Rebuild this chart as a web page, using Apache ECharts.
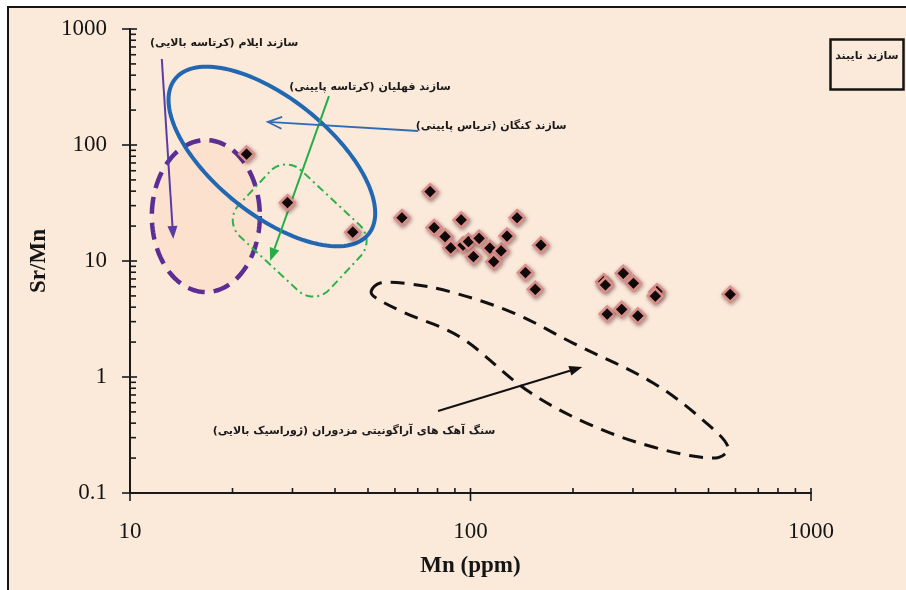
<!DOCTYPE html>
<html>
<head>
<meta charset="utf-8">
<script src="https://cdn.jsdelivr.net/npm/echarts@6/dist/echarts.min.js"></script>
<style>
  html, body { margin: 0; padding: 0; background: #ffffff; }
  body { position: relative; width: 906px; height: 590px; overflow: hidden; }
  #frame { position: absolute; left: 7px; top: 6px; width: 1000px; height: 1000px;
           background: #FBE9DA; border-left: 2px solid #151515; border-top: 2px solid #151515; }
  #chart { position: absolute; left: 0; top: 0; width: 906px; height: 590px; }
</style>
</head>
<body>
<div id="frame"></div>
<div id="chart"></div>
<script>
// Nayband Formation samples: Mn (ppm) against Sr/Mn
const mn   = [22.0, 29.0, 45.1, 62.9, 76.1, 78.2, 84.2, 87.5, 93.9, 95.1, 98.6, 106, 102, 114, 123, 128, 117, 137, 161, 145, 155, 246, 249, 281, 301, 353, 349, 252, 278, 310, 579];
const srMn = [83.6, 31.8, 17.7, 23.6, 39.6, 19.4, 16.2, 13.0, 22.6, 13.7, 14.7, 15.7, 10.9, 12.9, 12.2, 16.4, 9.86, 23.6, 13.7, 7.93, 5.70, 6.63, 6.21, 7.83, 6.43, 5.44, 4.99, 3.49, 3.83, 3.36, 5.16];

// Axis tick values (log decades and their 2..9 subdivisions)
const xMajor = [10, 100, 1000];
const xMinor = [20, 30, 40, 50, 60, 70, 80, 90, 200, 300, 400, 500, 600, 700, 800, 900];
const yMajor = [0.1, 1, 10, 100, 1000];
const yMinor = [0.2, 0.3, 0.4, 0.5, 0.6, 0.7, 0.8, 0.9, 2, 3, 4, 5, 6, 7, 8, 9,
                20, 30, 40, 50, 60, 70, 80, 90, 200, 300, 400, 500, 600, 700, 800, 900];

// Field of the Mozduran aragonitic limestones (outline, Mn / Sr/Mn)
const mozduranMn   = [51.1, 54.3, 66.5, 87.7, 134, 200, 344, 493, 572, 523, 344, 219, 146, 93.2, 63.4, 52.8];
const mozduranSrMn = [5.51, 6.46, 6.34, 5.41, 3.56, 1.96, 0.888, 0.401, 0.244, 0.200, 0.249, 0.401, 0.773, 2.21, 3.63, 4.80];

// Centres of the other formation fields (Mn, Sr/Mn)
const ilamCentre     = [16.7, 24.4];
const kanganCentre   = [26.1, 79.6];
const fahliyanCentre = [31.5, 18.3];

// Labels and their pointer arrows (Mn, Sr/Mn)
const labelIlam     = 'سازند ایلام (کرتاسه بالایی)';
const labelFahliyan = 'سازند فهلیان (کرتاسه پایینی)';
const labelKangan   = 'سازند کنگان (تریاس پایینی)';
const labelMozduran = 'سنگ آهک های آراگونیتی مزدوران (ژوراسیک بالایی)';
const labelNayband  = 'سازند نایبند';
const posIlam     = [18.9, 757];
const posFahliyan = [50.7, 316];
const posKangan   = [115, 146];
const posMozduran = [45.5, 0.342];
const arrowIlam     = [[12.4, 551], [13.4, 15.5]];
const arrowFahliyan = [[38.4, 264], [25.8, 10.0]];
const arrowKangan   = [[70.2, 132], [25.4, 158]];
const arrowMozduran = [[80.3, 0.509], [213, 1.22]];

const RTL = s => '\u202B' + s + '\u202C';
const persianFont = 'bold 11px "DejaVu Sans"';

const chart = echarts.init(document.getElementById('chart'), null, { renderer: 'canvas' });

function ellipsePts(c, rx, ry, deg) {
  const th = deg * Math.PI / 180, pts = [];
  for (let i = 0; i < 144; i++) {
    const t = i / 144 * 2 * Math.PI, ex = rx * Math.cos(t), ey = ry * Math.sin(t);
    pts.push([c[0] + ex * Math.cos(th) - ey * Math.sin(th), c[1] + ex * Math.sin(th) + ey * Math.cos(th)]);
  }
  return pts;
}

function roundRectPts(c, w, h, r, deg) {
  const th = deg * Math.PI / 180, hw = w / 2, hh = h / 2, pts = [];
  const corners = [[hw - r, hh - r, 0], [-hw + r, hh - r, 90], [-hw + r, -hh + r, 180], [hw - r, -hh + r, 270]];
  corners.forEach(([cx, cy, a0]) => {
    for (let k = 0; k <= 10; k++) {
      const a = (a0 + k * 9) * Math.PI / 180;
      const lx = cx + r * Math.cos(a), ly = cy + r * Math.sin(a);
      pts.push([c[0] + lx * Math.cos(th) - ly * Math.sin(th), c[1] + lx * Math.sin(th) + ly * Math.cos(th)]);
    }
  });
  return pts;
}

function arrow(api, pair, color, width, open) {
  const a = api.coord(pair[0]), b = api.coord(pair[1]);
  const ang = Math.atan2(b[1] - a[1], b[0] - a[0]);
  const L = open ? 14 : 13, W = open ? 6 : 5;
  const bx = b[0] - L * Math.cos(ang), by = b[1] - L * Math.sin(ang);
  const l = [bx + W * Math.sin(ang), by - W * Math.cos(ang)];
  const r = [bx - W * Math.sin(ang), by + W * Math.cos(ang)];
  const out = [{ type: 'line', shape: { x1: a[0], y1: a[1], x2: open ? b[0] : bx, y2: open ? b[1] : by },
                 style: { stroke: color, lineWidth: width } }];
  if (open) out.push({ type: 'polyline', shape: { points: [l, b, r] }, style: { stroke: color, lineWidth: width, fill: null } });
  else out.push({ type: 'polygon', shape: { points: [l, b, r] }, style: { fill: color } });
  return out;
}

function label(api, pos, text) {
  const p = api.coord(pos);
  return { type: 'text', x: p[0], y: p[1],
           style: { text: RTL(text), font: persianFont, fill: '#1a1a1a', align: 'center', verticalAlign: 'middle' } };
}

function renderFields(params, api) {
  const children = [];
  // Ilam field (purple, dashed, shaded)
  children.push({ type: 'polygon', shape: { points: ellipsePts(api.coord(ilamCentre), 54, 76, 0) },
    style: { fill: 'rgba(252,212,182,0.35)', stroke: '#5A2E93', lineWidth: 4.5, lineDash: [17, 9] } });
  // Fahliyan field (green, dash-dot)
  children.push({ type: 'polygon', shape: { points: roundRectPts(api.coord(fahliyanCentre), 124, 90, 22, 43) },
    style: { fill: null, stroke: '#2DB24B', lineWidth: 2, lineDash: [8, 4, 2, 4] } });
  // Kangan field (blue)
  children.push({ type: 'polygon', shape: { points: ellipsePts(api.coord(kanganCentre), 124, 58, 38.7) },
    style: { fill: null, stroke: '#2267B2', lineWidth: 4 } });
  // Mozduran field (black, dashed)
  const moz = mozduranMn.map((m, i) => api.coord([m, mozduranSrMn[i]]));
  children.push({ type: 'polygon', shape: { points: moz, smooth: 0.35 },
    style: { fill: null, stroke: '#111111', lineWidth: 3, lineDash: [14, 9] } });

  children.push(...arrow(api, arrowIlam, '#5B3CA6', 2, false));
  children.push(...arrow(api, arrowFahliyan, '#25AE48', 2, false));
  children.push(...arrow(api, arrowKangan, '#2E6DB4', 1.8, true));
  children.push(...arrow(api, arrowMozduran, '#111111', 2, false));

  children.push(label(api, posIlam, labelIlam));
  children.push(label(api, posFahliyan, labelFahliyan));
  children.push(label(api, posKangan, labelKangan));
  children.push(label(api, posMozduran, labelMozduran));
  return { type: 'group', children };
}

function renderTicks(params, api) {
  const children = [];
  const st = { stroke: '#1a1a1a', lineWidth: 1.6 };
  xMajor.forEach(v => { const p = api.coord([v, 0.1]);
    children.push({ type: 'line', shape: { x1: p[0], y1: p[1] - 5, x2: p[0], y2: p[1] + 8 }, style: st }); });
  xMinor.forEach(v => { const p = api.coord([v, 0.1]);
    children.push({ type: 'line', shape: { x1: p[0], y1: p[1] - 5, x2: p[0], y2: p[1] }, style: st }); });
  yMajor.forEach(v => { const p = api.coord([10, v]);
    children.push({ type: 'line', shape: { x1: p[0] - 8, y1: p[1], x2: p[0] + 7, y2: p[1] }, style: st }); });
  yMinor.forEach(v => { const p = api.coord([10, v]);
    children.push({ type: 'line', shape: { x1: p[0], y1: p[1], x2: p[0] + 6, y2: p[1] }, style: st }); });
  return { type: 'group', children };
}

const plainNumber = v => String(+v.toPrecision(6));
const axisFont = { fontFamily: '"Liberation Serif", "Times New Roman", serif', fontSize: 23, color: '#151515', formatter: plainNumber };

chart.setOption({
  backgroundColor: 'transparent',
  animation: false,
  grid: { left: 130, right: 95, top: 29, bottom: 97 },
  xAxis: {
    type: 'log', logBase: 10, min: 10, max: 1000,
    name: 'Mn (ppm)', nameLocation: 'middle', nameGap: 62,
    nameTextStyle: { fontFamily: '"Liberation Serif", serif', fontWeight: 'bold', fontSize: 23, color: '#151515' },
    axisLine: { lineStyle: { color: '#1a1a1a', width: 2 } },
    axisTick: { show: false },
    splitLine: { show: false },
    axisLabel: Object.assign({ margin: 27 }, axisFont)
  },
  yAxis: {
    type: 'log', logBase: 10, min: 0.1, max: 1000,
    name: 'Sr/Mn', nameLocation: 'middle', nameGap: 71,
    nameTextStyle: { fontFamily: '"Liberation Serif", serif', fontWeight: 'bold', fontSize: 23, color: '#151515' },
    axisLine: { lineStyle: { color: '#1a1a1a', width: 2 } },
    axisTick: { show: false },
    splitLine: { show: false },
    axisLabel: Object.assign({ margin: 23 }, axisFont)
  },
  graphic: [{
    type: 'group', left: 828, top: 37,
    children: [
      { type: 'rect', shape: { x: 0, y: 0, width: 73, height: 50 }, style: { fill: null, stroke: '#151515', lineWidth: 2.5 } },
      { type: 'text', x: 68, y: 17, style: { text: RTL(labelNayband), font: persianFont, fill: '#1a1a1a', align: 'right', verticalAlign: 'middle' } }
    ]
  }],
  series: [
    { type: 'custom', name: 'fields', data: [[10, 1]], renderItem: renderFields, clip: false, z: 1, silent: true },
    { type: 'custom', name: 'ticks', data: [[10, 1]], renderItem: renderTicks, clip: false, z: 1, silent: true },
    {
      type: 'scatter', name: 'Nayband',
      data: mn.map((m, i) => [m, srMn[i]]),
      symbol: 'diamond', symbolSize: 15, z: 5,
      itemStyle: { color: '#080808', borderColor: '#D98E8A', borderWidth: 2.5,
                   shadowBlur: 4, shadowColor: 'rgba(70,30,30,0.45)', shadowOffsetX: 1, shadowOffsetY: 1.5, opacity: 1 }
    }
  ]
});
</script>
</body>
</html>
